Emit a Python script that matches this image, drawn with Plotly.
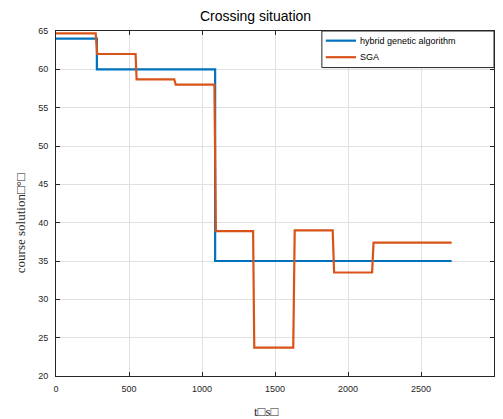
import plotly.graph_objects as go

# Hybrid genetic algorithm (step points)
hga_t = [0, 280, 280, 1090, 1090, 2710]
hga_v = [64, 64, 60, 60, 35, 35]

# SGA (step points)
sga_t = [0, 272, 282, 545, 552, 810, 820, 1085, 1095, 1350, 1358, 1625, 1635, 1895, 1905, 2165, 2175, 2710]
sga_v = [64.7, 64.7, 62, 62, 58.7, 58.7, 58.0, 58.0, 38.9, 38.9, 23.7, 23.7, 39.0, 39.0, 33.5, 33.5, 37.4, 37.4]

x_ticks = [0, 500, 1000, 1500, 2000, 2500, 3000]
y_ticks = [20, 25, 30, 35, 40, 45, 50, 55, 60, 65]

series_names = ["hybrid genetic algorithm", "SGA"]
series_colors = ["#0072BD", "#D95319"]

fig = go.Figure()
fig.add_trace(go.Scatter(x=hga_t, y=hga_v, mode="lines", name=series_names[0],
                         line=dict(color=series_colors[0], width=2.2), showlegend=False))
fig.add_trace(go.Scatter(x=sga_t, y=sga_v, mode="lines", name=series_names[1],
                         line=dict(color=series_colors[1], width=2.2), showlegend=False))

axis_common = dict(showline=True, linecolor="#262626", linewidth=1, mirror="allticks",
                   ticks="inside", ticklen=4, tickcolor="#262626", automargin=False,
                   showgrid=True, gridcolor="#e0e0e0", gridwidth=1, zeroline=False,
                   tickfont=dict(family="Liberation Sans, Arial", size=9, color="#262626"))

# manual legend box (MATLAB style)
fig.add_shape(type="rect", xref="paper", yref="paper", x0=0.607, x1=1.0, y0=0.894, y1=1.0,
              line=dict(color="#262626", width=1), fillcolor="white", layer="above")
legend_y = [0.972, 0.924]
for name, color, ly in zip(series_names, series_colors, legend_y):
    fig.add_shape(type="line", xref="paper", yref="paper", x0=0.616, x1=0.685, y0=ly, y1=ly,
                  line=dict(color=color, width=2.2), layer="above")
    fig.add_annotation(xref="paper", yref="paper", x=0.690, y=ly, text=name, showarrow=False,
                       xanchor="left", yanchor="middle",
                       font=dict(family="Liberation Sans, Arial", size=9, color="black"))

# axis titles
title_font = dict(family="Liberation Serif, Times New Roman", size=13, color="#262626")
fig.add_annotation(xref="paper", yref="paper", x=0.480, y=0, yshift=-35, text="t□s□",
                   showarrow=False, xanchor="center", yanchor="middle", font=title_font)
fig.add_annotation(xref="paper", yref="paper", x=0, xshift=-36, y=0.443, text="course solution□°□",
                   showarrow=False, xanchor="center", yanchor="middle", textangle=-90, font=title_font)

fig.update_layout(
    width=503, height=419,
    margin=dict(l=56, r=9, t=31, b=43),
    paper_bgcolor="white", plot_bgcolor="white",
    title=dict(text="Crossing situation", x=0.508, xanchor="center", y=0.962, yanchor="middle",
               font=dict(family="Liberation Sans, Arial", size=14, color="black")),
    xaxis=dict(range=[0, 3000], tickvals=x_ticks, ticklabelstandoff=4, **axis_common),
    yaxis=dict(range=[20, 65], tickvals=y_ticks, ticklabelstandoff=5, **axis_common),
    showlegend=False,
)

fig.write_html("out.html")
